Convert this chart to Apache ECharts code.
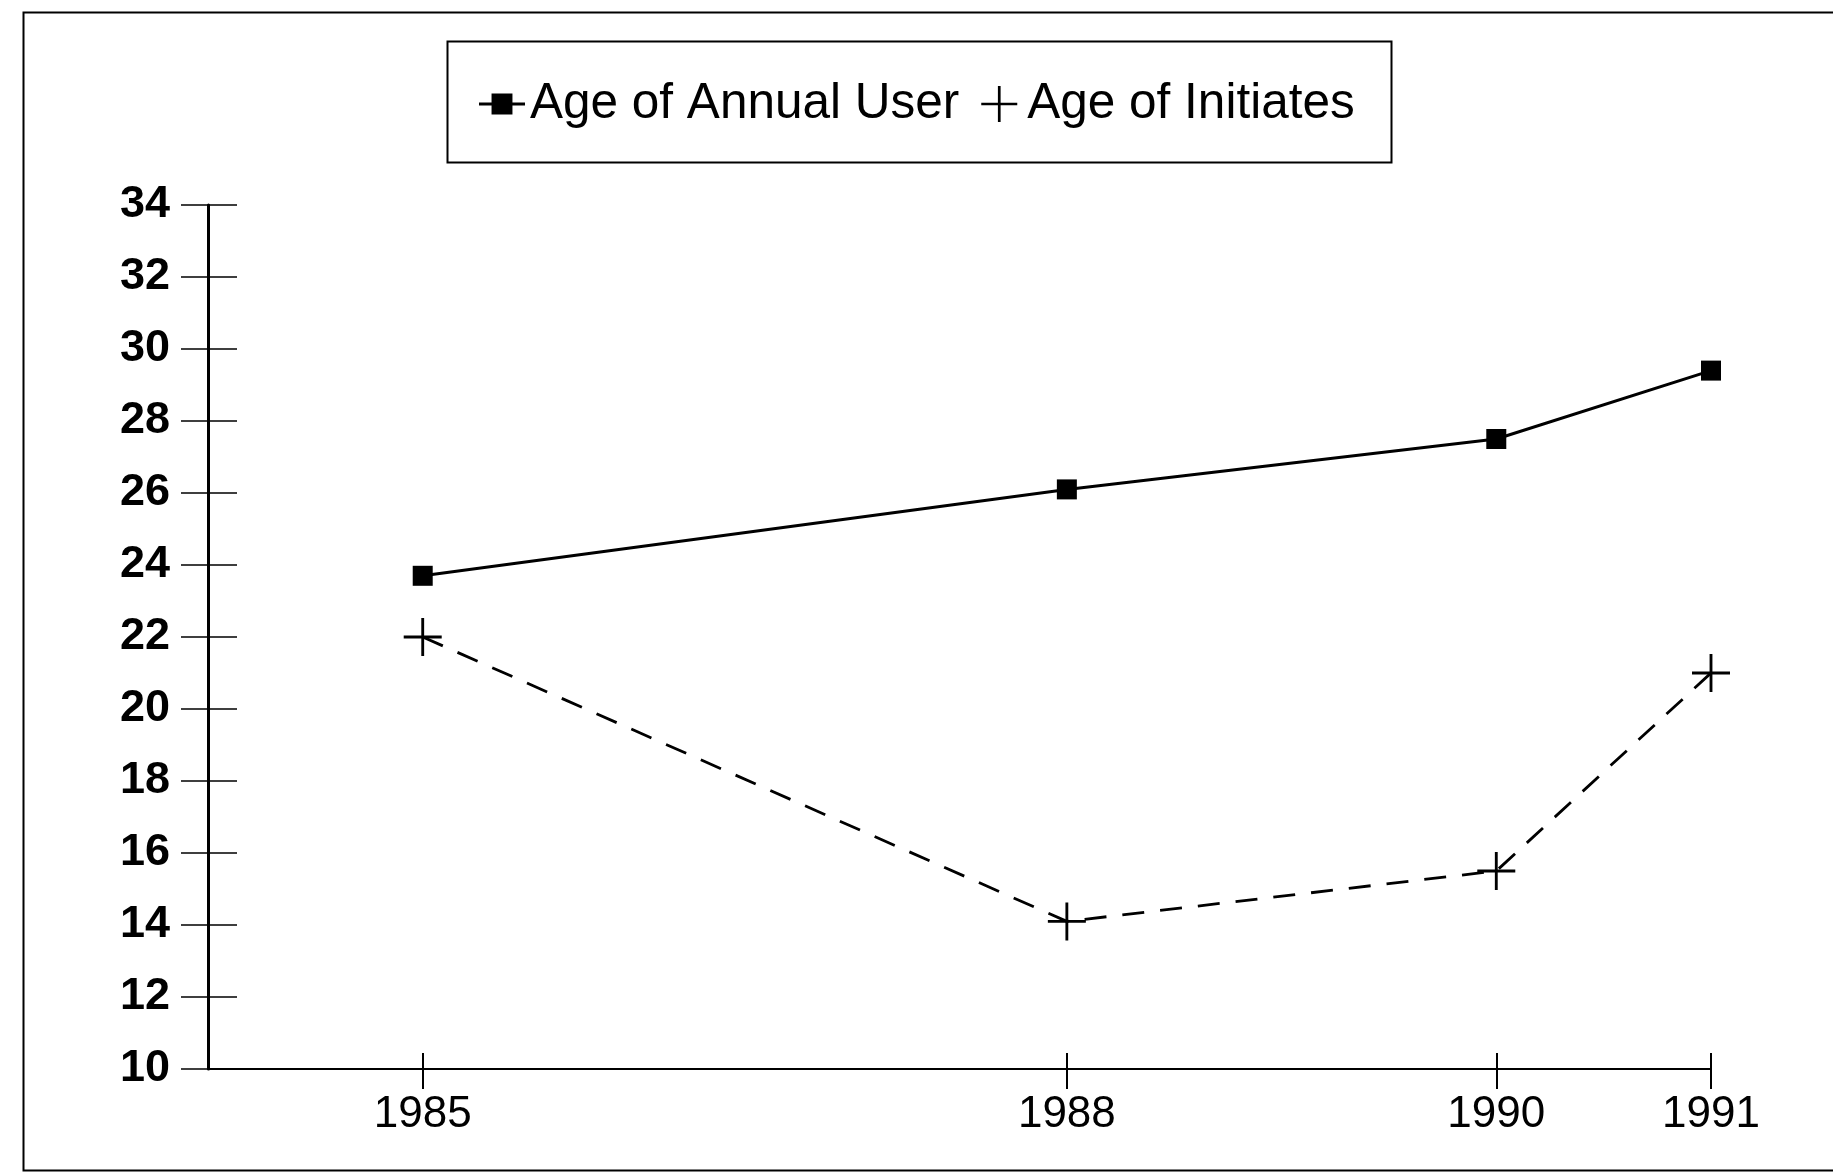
<!DOCTYPE html>
<html>
<head>
<meta charset="utf-8">
<title>Age of Annual User / Age of Initiates</title>
<script src="https://cdn.jsdelivr.net/npm/echarts@6/dist/echarts.min.js"></script>
<style>
  html, body { margin: 0; padding: 0; background: #fff; }
  #chart { width: 1833px; height: 1172px; }
</style>
</head>
<body>
<div id="chart"></div>
<script>
// data
var years = [1985, 1988, 1990, 1991];
var annualUser = [23.7, 26.1, 27.5, 29.4];
var initiates = [22.0, 14.1, 15.5, 21.0];
var yearTicks = [1985, 1988, 1990, 1991];

var FONT = 'Liberation Sans, Arial, Helvetica, sans-serif';
// plus marker made of two thin bars (filled path)
var plusPath = 'path://M0,18.5 L40,18.5 L40,21.5 L0,21.5 Z M18.5,0 L21.5,0 L21.5,40 L18.5,40 Z';
// legend icon: short line with a square in the middle
var lineSquarePath = 'path://M0,8.5 L12,8.5 L12,0 L32,0 L32,8.5 L44,8.5 L44,11.5 L32,11.5 L32,20 L12,20 L12,11.5 L0,11.5 Z';

function pairs(xs, ys) {
  var out = [];
  for (var i = 0; i < xs.length; i++) out.push([xs[i], ys[i]]);
  return out;
}

var chart = echarts.init(document.getElementById('chart'));
var option = {
  backgroundColor: '#fff',
  animation: false,
  graphic: [
    // outer frame (right side runs off the page)
    { type: 'rect', left: 21, top: 10, shape: { width: 1860, height: 1158 },
      style: { fill: 'none', stroke: '#000', lineWidth: 2 } },
    // legend box
    { type: 'rect', left: 445, top: 39, shape: { width: 944, height: 121 },
      style: { fill: 'none', stroke: '#000', lineWidth: 2 } }
  ],
  legend: {
    left: 474,
    top: 74,
    itemGap: 22,
    itemWidth: 46,
    itemHeight: 36,
    textStyle: { fontSize: 49.5, color: '#000', fontFamily: FONT },
    data: [
      { name: 'Age of Annual User', icon: lineSquarePath, itemStyle: { color: '#000' } },
      { name: 'Age of Initiates', icon: plusPath, itemStyle: { color: '#000' } }
    ]
  },
  grid: { left: 208, right: 122, top: 205, bottom: 103 },
  xAxis: [
    {
      type: 'value',
      min: 1984,
      max: 1991,
      axisLine: { show: true, lineStyle: { color: '#000', width: 2 } },
      axisTick: { show: true, inside: false, length: 20, customValues: yearTicks,
        lineStyle: { color: '#000', width: 2 } },
      axisLabel: { customValues: yearTicks, margin: 24, fontSize: 44, color: '#000',
        fontFamily: FONT, formatter: function (v) { return String(v); } },
      splitLine: { show: false }
    },
    {
      // same axis again, only for the ticks going up
      type: 'value',
      position: 'bottom',
      min: 1984,
      max: 1991,
      axisLine: { show: false },
      axisTick: { show: true, inside: true, length: 16, customValues: yearTicks,
        lineStyle: { color: '#000', width: 2 } },
      axisLabel: { show: false },
      splitLine: { show: false }
    }
  ],
  yAxis: [
    {
      type: 'value',
      min: 10,
      max: 34,
      interval: 2,
      axisLine: { show: true, lineStyle: { color: '#000', width: 3 } },
      axisTick: { show: true, inside: false, length: 27, lineStyle: { color: '#000', width: 1.5 } },
      axisLabel: { margin: 38, fontSize: 45, fontWeight: 'bold', color: '#000', fontFamily: FONT },
      splitLine: { show: false }
    },
    {
      type: 'value',
      position: 'left',
      min: 10,
      max: 34,
      interval: 2,
      axisLine: { show: false },
      axisTick: { show: true, inside: true, length: 29, lineStyle: { color: '#000', width: 1.5 } },
      axisLabel: { show: false },
      splitLine: { show: false }
    }
  ],
  series: [
    {
      name: 'Age of Annual User',
      type: 'line',
      data: pairs(years, annualUser),
      symbol: 'rect',
      symbolSize: 20,
      itemStyle: { color: '#000' },
      lineStyle: { color: '#000', width: 3 }
    },
    {
      name: 'Age of Initiates',
      type: 'line',
      data: pairs(years, initiates),
      symbol: plusPath,
      symbolSize: 38,
      itemStyle: { color: '#000' },
      lineStyle: { color: '#000', width: 2.8, type: [22, 16] }
    }
  ]
};
chart.setOption(option);
</script>
</body>
</html>
